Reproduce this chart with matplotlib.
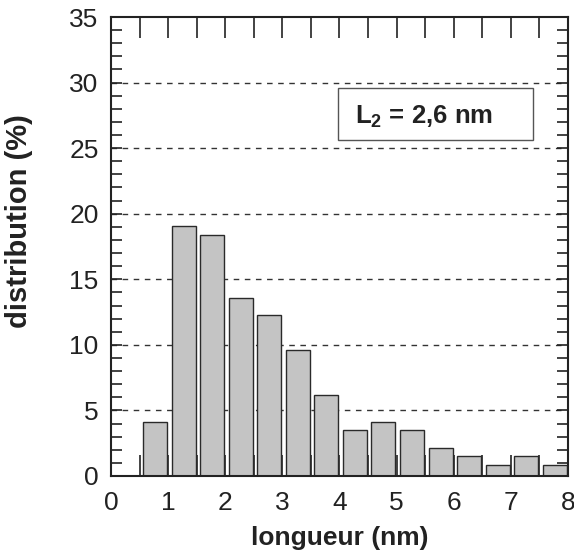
import numpy as np
import matplotlib.pyplot as plt
from matplotlib.patches import Rectangle
from matplotlib.ticker import MultipleLocator

plt.rcParams['font.family'] = ['Liberation Sans', 'DejaVu Sans']
plt.rcParams['mathtext.fontset'] = 'custom'
plt.rcParams['mathtext.rm'] = 'Liberation Sans'
plt.rcParams['mathtext.bf'] = 'Liberation Sans:bold'

# histogram bins (nm) and distribution (%)
bin_starts = [0.5, 1.0, 1.5, 2.0, 2.5, 3.0, 3.5, 4.0, 4.5, 5.0, 5.5, 6.0, 6.5, 7.0, 7.5]
distribution = [4.1, 19.1, 18.4, 13.6, 12.3, 9.6, 6.2, 3.5, 4.1, 3.5, 2.1, 1.5, 0.8, 1.5, 0.8]
x_ticks = [0, 1, 2, 3, 4, 5, 6, 7, 8]
y_ticks = [0, 5, 10, 15, 20, 25, 30, 35]
grid_levels = [5, 10, 15, 20, 25, 30]

fig = plt.figure(figsize=(5.74, 5.58), dpi=100)
ax = fig.add_axes([0.1934, 0.147, 0.7961, 0.8225])

# dashed horizontal grid behind the bars
for g in grid_levels:
    ax.axhline(g, color='#333333', lw=1.0, ls=(0, (4, 4)), zorder=0)

left_edges = np.array(bin_starts) + 0.06
ax.bar(left_edges, distribution, width=0.42, align='edge',
       color='#c4c4c4', edgecolor='#2a2a2a', linewidth=1.0, zorder=2)

ax.set_xlim(0, 8)
ax.set_ylim(0, 35)
ax.set_xticks(x_ticks)
ax.set_yticks(y_ticks)
ax.xaxis.set_minor_locator(MultipleLocator(0.5))
ax.yaxis.set_minor_locator(MultipleLocator(1))

ax.tick_params(axis='x', which='both', direction='in', top=True, bottom=True,
               length=15, width=1.2, labelsize=19, pad=11, colors='#222222')
ax.tick_params(axis='y', which='both', direction='in', left=True, right=True,
               length=8, width=1.2, labelsize=19, pad=9, colors='#222222')

for s in ax.spines.values():
    s.set_linewidth(1.5)
    s.set_color('#222222')

ax.set_xlabel('longueur (nm)', fontsize=19, fontweight='bold', color='#222222')
ax.set_ylabel('distribution (%)', fontsize=21, fontweight='bold', color='#222222')
ax.xaxis.set_label_coords(0.5, -0.108)
ax.yaxis.set_label_coords(-0.171, 0.556)

# annotation box
ax.add_patch(Rectangle((3.97, 25.6), 3.42, 4.0, facecolor='white',
                       edgecolor='#555555', lw=1.0, zorder=3))
ax.text(4.27, 26.85, r'L$_\mathbf{2}$ = 2,6 nm', fontsize=18.5, fontweight='bold',
        color='#222222', ha='left', va='baseline', zorder=4)

fig.savefig('out.png', dpi=100)
